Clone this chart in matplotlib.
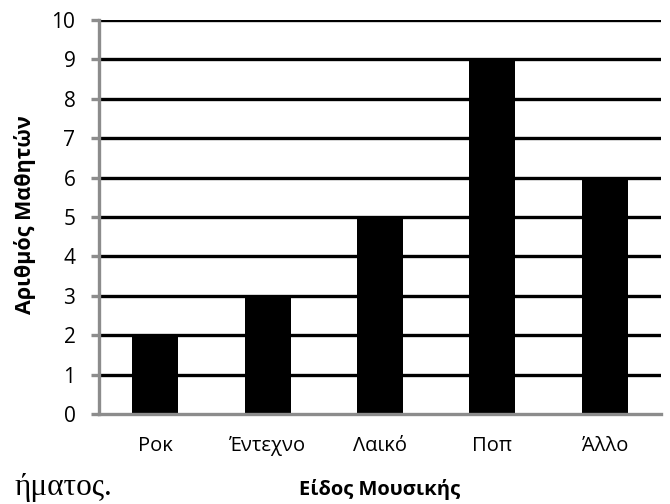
import matplotlib
matplotlib.use("Agg")
import matplotlib.pyplot as plt

categories = ["Ροκ", "Έντεχνο", "Λαικό", "Ποπ", "Άλλο"]
values = [2, 3, 5, 9, 6]
yticks = list(range(0, 11))

plt.rcParams['font.family'] = ['Open Sans', 'DejaVu Sans']

fig = plt.figure(figsize=(6.7, 5.04), dpi=100)
ax = fig.add_axes([99/670, 1-414/504, 562/670, 394/504])

x = list(range(len(categories)))
ax.bar(x, values, width=0.41, color='black', zorder=3)
ax.set_xlim(-0.5, len(categories)-0.5)
ax.set_ylim(0, 10)
ax.set_yticks(yticks)
ax.set_yticklabels([str(t) for t in yticks], fontsize=15)
ax.set_xticks(x)
ax.set_xticklabels(categories, fontsize=14.5)

for t in yticks[1:]:
    ax.axhline(t, color='black', lw=2.4, zorder=1)

for s in ['top', 'right']:
    ax.spines[s].set_visible(False)
for s in ['left', 'bottom']:
    ax.spines[s].set_color('#8c8c8c')
    ax.spines[s].set_linewidth(2.4)
    ax.spines[s].set_zorder(4)

ax.tick_params(axis='y', length=6, width=2.4, color='#8c8c8c', pad=11)
ax.tick_params(axis='x', length=0, pad=16)

fig.text(25/670, 1-215/504, "Αριθμός Μαθητών", fontsize=15.5, fontweight='bold',
         ha='center', va='center', rotation=90)
fig.text(380/670, 1-490/504, "Είδος Μουσικής", fontsize=14.5, fontweight='bold',
         ha='center', va='center')
fig.text(112/670, 1-495/504, "ήματος.", fontsize=22.5, ha='right', va='baseline',
         family=['Liberation Serif', 'DejaVu Serif'])

fig.savefig("out.png", dpi=100)
